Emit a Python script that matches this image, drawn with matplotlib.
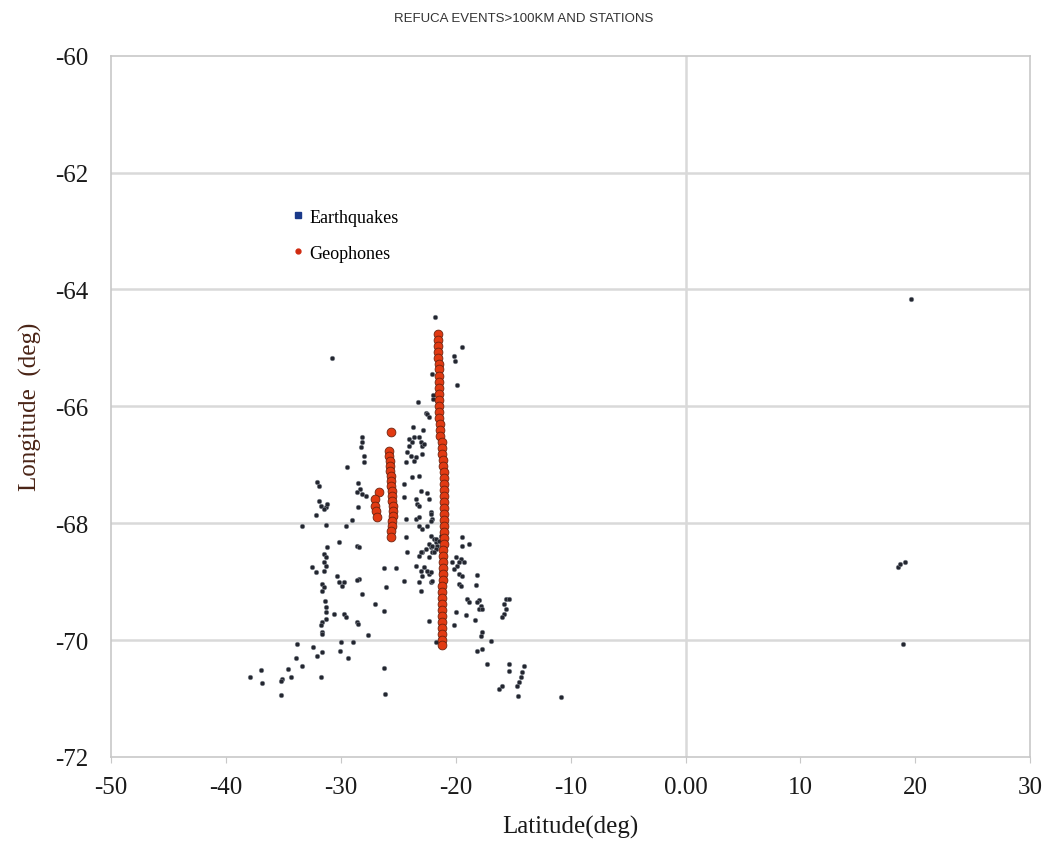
import matplotlib
matplotlib.use("Agg")
import matplotlib.pyplot as plt
from matplotlib.lines import Line2D

plt.rcParams["axes.unicode_minus"] = False

# earthquake epicentres (latitude, longitude)
eq_lat = [-21.80, -30.77, -19.44, -20.14, -20.05, -19.88, -22.06, -23.28, -21.97, -21.97,
          -22.58, -22.49, -22.32, -23.71, -22.84, -23.63, -24.06, -23.80, -23.19, -23.02,
          -22.93, -24.24, -23.89, -23.45, -24.32, -23.63, -22.93, -24.06, -22.75, -21.18,
          -21.18, -21.01, -28.16, -28.16, -28.25, -27.99, -27.99, -29.47, -32.08, -31.91,
          -28.51, -28.33, -28.16, -27.81, -28.60, -28.51, -31.91, -31.73, -31.30, -31.21,
          -31.47, -32.17, -33.39, -31.30, -29.55, -29.03, -23.80, -23.19, -24.50, -23.02,
          -22.49, -24.50, -23.45, -23.36, -22.32, -23.19, -22.14, -22.06, -23.45, -23.19,
          -22.93, -22.49, -22.14, -22.14, -24.32, -23.19, -22.14, -21.88, -21.71, -21.62,
          -22.14, -22.32, -22.58, -22.93, -23.19, -22.06, -21.71, -22.06, -21.45, -21.27,
          -21.18, -21.71, -21.88, -21.01, -21.18, -21.27, -24.32, -24.24, -22.32, -23.02,
          -23.45, -23.02, -22.93, -22.32, -22.14, -23.19, -23.02, -22.75, -22.49, -22.14,
          -22.06, -24.50, -22.32, -21.71, -19.44, -18.83, -19.44, -19.96, -19.53, -19.27,
          -19.70, -20.31, -19.88, -20.14, -19.70, -19.44, -19.70, -19.53, -18.13, -18.22,
          -19.01, -18.83, -17.96, -17.78, -17.96, -17.70, -18.13, -19.96, -19.09, -20.14,
          -18.31, -17.70, -17.78, -16.91, -18.13, -17.70, -17.26, -15.61, -15.78, -15.61,
          -15.78, -15.95, -15.34, -15.34, -15.34, -14.04, -14.21, -14.30, -14.47, -14.65,
          -16.22, -15.95, -14.56, -10.81, -30.16, -28.60, -28.42, -31.21, -31.47, -31.30,
          -31.47, -31.30, -31.47, -32.52, -32.17, -31.65, -31.47, -31.65, -30.34, -30.16,
          -29.73, -29.90, -28.42, -28.60, -28.16, -26.24, -25.20, -26.07, -26.24, -27.03,
          -31.38, -31.30, -31.30, -31.30, -31.65, -31.73, -31.65, -31.65, -30.60, -29.73,
          -29.55, -28.60, -28.51, -27.64, -33.83, -32.43, -29.99, -28.94, -33.91, -32.08,
          -31.65, -30.08, -29.38, -33.39, -34.61, -36.96, -34.35, -35.13, -35.22, -37.92,
          -36.88, -31.73, -35.22, -26.24, -26.15, 19.62, 18.48, 18.66, 19.09, 18.92]
eq_lon = [-64.48, -65.17, -64.98, -65.14, -65.22, -65.63, -65.44, -65.92, -65.80, -65.87,
          -66.11, -66.14, -66.18, -66.35, -66.40, -66.52, -66.56, -66.61, -66.52, -66.61,
          -66.68, -66.78, -66.85, -66.86, -66.95, -66.93, -66.81, -66.68, -66.64, -66.68,
          -67.02, -67.33, -66.52, -66.61, -66.69, -66.85, -66.95, -67.04, -67.29, -67.36,
          -67.31, -67.41, -67.50, -67.53, -67.46, -67.72, -67.62, -67.70, -67.72, -67.67,
          -67.75, -67.86, -68.05, -68.03, -68.05, -67.94, -67.21, -67.19, -67.33, -67.45,
          -67.48, -67.55, -67.58, -67.67, -67.58, -67.70, -67.81, -67.93, -67.93, -68.05,
          -68.10, -68.05, -67.84, -67.96, -67.93, -67.89, -68.22, -68.27, -68.32, -68.39,
          -68.40, -68.35, -68.44, -68.49, -68.56, -68.49, -68.27, -68.39, -68.30, -68.22,
          -68.15, -68.44, -68.49, -68.56, -68.66, -68.83, -68.23, -68.49, -68.58, -68.49,
          -68.73, -68.82, -68.90, -68.87, -69.00, -69.00, -69.16, -68.75, -68.82, -68.83,
          -68.99, -68.99, -69.67, -70.03, -68.23, -68.35, -68.39, -68.58, -68.61, -68.66,
          -68.66, -68.66, -68.73, -68.78, -68.87, -68.90, -69.04, -69.07, -68.88, -69.06,
          -69.29, -69.35, -69.31, -69.41, -69.47, -69.47, -69.35, -69.52, -69.57, -69.74,
          -69.65, -69.86, -69.93, -70.01, -70.18, -70.15, -70.41, -69.29, -69.38, -69.47,
          -69.55, -69.60, -69.29, -70.41, -70.53, -70.44, -70.54, -70.63, -70.72, -70.78,
          -70.84, -70.78, -70.96, -70.97, -68.32, -68.39, -68.40, -68.40, -68.52, -68.58,
          -68.66, -68.73, -68.82, -68.75, -68.83, -69.04, -69.09, -69.16, -68.90, -69.00,
          -69.00, -69.07, -68.95, -68.97, -69.21, -68.76, -68.76, -69.09, -69.50, -69.38,
          -69.33, -69.43, -69.52, -69.64, -69.69, -69.74, -69.86, -69.89, -69.55, -69.55,
          -69.60, -69.69, -69.72, -69.91, -70.07, -70.12, -70.03, -70.03, -70.30, -70.27,
          -70.20, -70.18, -70.30, -70.44, -70.49, -70.51, -70.63, -70.66, -70.70, -70.63,
          -70.73, -70.63, -70.94, -70.48, -70.92, -64.16, -68.75, -68.70, -68.66, -70.07]

# geophone stations: long line, second line, short third group
geo_lat = [-21.53, -21.53, -21.53, -21.53, -21.53, -21.45, -21.45, -21.45, -21.45, -21.45,
           -21.45, -21.45, -21.45, -21.45, -21.45, -21.36, -21.36, -21.36, -21.18, -21.18,
           -21.18, -21.10, -21.10, -21.01, -21.01, -21.01, -21.01, -21.01, -21.01, -21.01,
           -21.01, -21.01, -21.01, -21.01, -21.01, -21.01, -21.10, -21.10, -21.10, -21.10,
           -21.10, -21.10, -21.18, -21.18, -21.18, -21.18, -21.18, -21.18, -21.18, -21.18,
           -21.18, -21.18, -21.18,
           -25.63, -25.81, -25.81, -25.72, -25.72, -25.72, -25.63, -25.63, -25.63, -25.54,
           -25.54, -25.54, -25.46, -25.46, -25.46, -25.54, -25.54, -25.63, -25.63,
           -26.68, -27.03, -27.03, -26.94, -26.85]
geo_lon = [-64.76, -64.86, -64.96, -65.07, -65.17, -65.27, -65.37, -65.48, -65.58, -65.68,
           -65.79, -65.89, -65.99, -66.09, -66.20, -66.30, -66.40, -66.50, -66.61, -66.71,
           -66.81, -66.92, -67.02, -67.12, -67.22, -67.33, -67.43, -67.53, -67.63, -67.74,
           -67.84, -67.94, -68.05, -68.15, -68.25, -68.35, -68.46, -68.56, -68.66, -68.76,
           -68.87, -68.97, -69.07, -69.17, -69.28, -69.38, -69.48, -69.59, -69.69, -69.79,
           -69.89, -70.00, -70.08,
           -66.44, -66.76, -66.85, -66.93, -67.02, -67.10, -67.19, -67.27, -67.36, -67.45,
           -67.53, -67.62, -67.70, -67.79, -67.87, -67.96, -68.05, -68.13, -68.23,
           -67.46, -67.58, -67.70, -67.79, -67.89]

x_ticks = [-50, -40, -30, -20, -10, 0, 10, 20, 30]
x_labels = ["-50", "-40", "-30", "-20", "-10", "0.00", "10", "20", "30"]
y_ticks = [-60, -62, -64, -66, -68, -70, -72]

serif = ["Liberation Serif", "DejaVu Serif"]

fig = plt.figure(figsize=(10.48, 8.45), dpi=100)
ax = fig.add_axes([0.106, 0.103, 0.877, 0.830])

for yv in y_ticks[1:-1]:
    ax.axhline(yv, color="#d9d9d9", lw=1.8, zorder=0)
ax.axvline(0, color="#d9d9d9", lw=1.8, zorder=0)

ax.scatter(eq_lat, eq_lon, s=11, color="#23262f", edgecolors="#7d828c",
           linewidths=0.4, zorder=2)
ax.scatter(geo_lat, geo_lon, s=40, marker="o", color="#e23a12", edgecolors="#6e2410",
           linewidths=0.6, zorder=3)

ax.set_xlim(-50, 30)
ax.set_ylim(-72, -60)
ax.set_xticks(x_ticks)
ax.set_xticklabels(x_labels)
ax.set_yticks(y_ticks)
for lab in ax.get_xticklabels() + ax.get_yticklabels():
    lab.set_fontfamily(serif)
    lab.set_fontsize(18)
    lab.set_color("#1a1a1a")
ax.tick_params(axis="y", length=0, pad=16)
ax.tick_params(axis="x", direction="out", length=4, color="#c8c8c8", pad=10)

for sp in ax.spines.values():
    sp.set_color("#c8c8c8")
    sp.set_linewidth(1.2)

ax.set_xlabel("Latitude(deg)", fontfamily=serif, fontsize=18, color="#1a1a1a",
              labelpad=12)
ax.set_ylabel("Longitude  (deg)", fontfamily=serif, fontsize=18, color="#4a2416",
              labelpad=10)

fig.text(0.5, 0.977, "REFUCA EVENTS>100KM AND STATIONS", ha="center", va="center",
         fontfamily=["Liberation Sans Narrow", "Liberation Sans"], fontsize=9.5,
         color="#333333")

handles = [Line2D([], [], ls="none", marker="s", ms=4, color="#1a3a8a"),
           Line2D([], [], ls="none", marker="o", ms=3.5, color="#d02a10")]
ax.legend(handles, ["Earthquakes", "Geophones"], loc="upper left",
          bbox_to_anchor=(0.18, 0.805), frameon=False, handlelength=0.6,
          handletextpad=0.3, labelspacing=1.05, prop={"family": serif, "size": 13})

fig.savefig("out.png", dpi=100, facecolor="white")
